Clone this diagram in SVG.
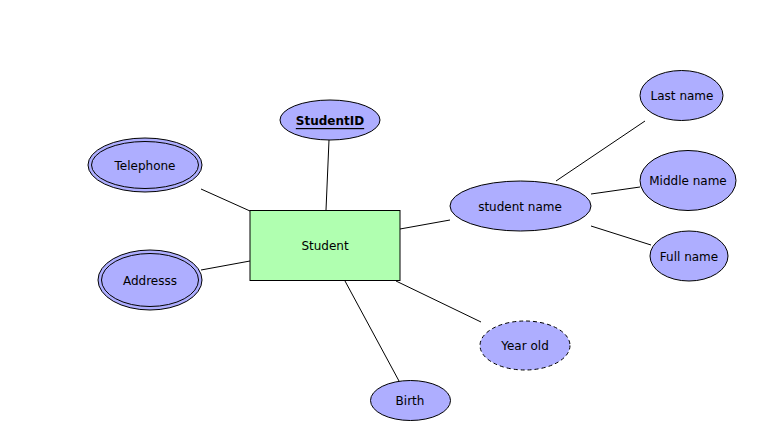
<svg xmlns="http://www.w3.org/2000/svg" width="757" height="440" viewBox="0 0 757 440">
<style>
.attr{fill:#aeaeff;stroke:#000;stroke-width:1}
.ent{fill:#b0ffb0;stroke:#000;stroke-width:1}
.inner{fill:none;stroke:#000;stroke-width:1}
.dash{stroke-dasharray:4,3}
text{font-family:"DejaVu Sans",Verdana,sans-serif;font-size:12px;fill:#000;text-anchor:middle;dominant-baseline:central}
.key{font-weight:bold;text-decoration:underline}
#connectors line{stroke:#000;stroke-width:1}
</style>
<rect width="757" height="440" fill="#fff"/>
<g id="connectors">
<line x1="201" y1="189" x2="250" y2="211"/>
<line x1="201" y1="270" x2="250" y2="261"/>
<line x1="329" y1="140" x2="326" y2="210"/>
<line x1="400" y1="229" x2="450" y2="220"/>
<line x1="345" y1="281" x2="399" y2="381"/>
<line x1="396" y1="281" x2="481" y2="322"/>
<line x1="556" y1="181" x2="645" y2="121"/>
<line x1="591" y1="194" x2="640" y2="187"/>
<line x1="591" y1="226" x2="651" y2="245"/>
</g>
<g id="student">
<rect class="ent" x="250" y="210.5" width="150" height="70"/>
<text x="325" y="246">Student</text>
</g>
<g id="studentid">
<ellipse class="attr" cx="330" cy="120" rx="50" ry="20"/>
<text class="key" x="330" y="121">StudentID</text>
</g>
<g id="telephone">
<ellipse class="attr" cx="145" cy="165" rx="57" ry="27"/>
<ellipse class="inner" cx="145" cy="165" rx="53.5" ry="23.5"/>
<text x="145" y="166">Telephone</text>
</g>
<g id="addresss">
<ellipse class="attr" cx="150" cy="280" rx="52" ry="30"/>
<ellipse class="inner" cx="150" cy="280" rx="48.5" ry="26.5"/>
<text x="150" y="281">Addresss</text>
</g>
<g id="studentname">
<ellipse class="attr" cx="520.5" cy="206" rx="70.5" ry="25"/>
<text x="520" y="207">student name</text>
</g>
<g id="lastname">
<ellipse class="attr" cx="681.5" cy="95.5" rx="41.5" ry="25"/>
<text x="682" y="96">Last name</text>
</g>
<g id="middlename">
<ellipse class="attr" cx="688" cy="180.5" rx="48" ry="30"/>
<text x="688" y="181">Middle name</text>
</g>
<g id="fullname">
<ellipse class="attr" cx="689" cy="256" rx="39" ry="25"/>
<text x="689" y="257">Full name</text>
</g>
<g id="yearold">
<ellipse class="attr dash" cx="525" cy="345.5" rx="45" ry="24.5"/>
<text x="525" y="346">Year old</text>
</g>
<g id="birth">
<ellipse class="attr" cx="410.5" cy="400.5" rx="40" ry="20"/>
<text x="410" y="401">Birth</text>
</g>
</svg>
